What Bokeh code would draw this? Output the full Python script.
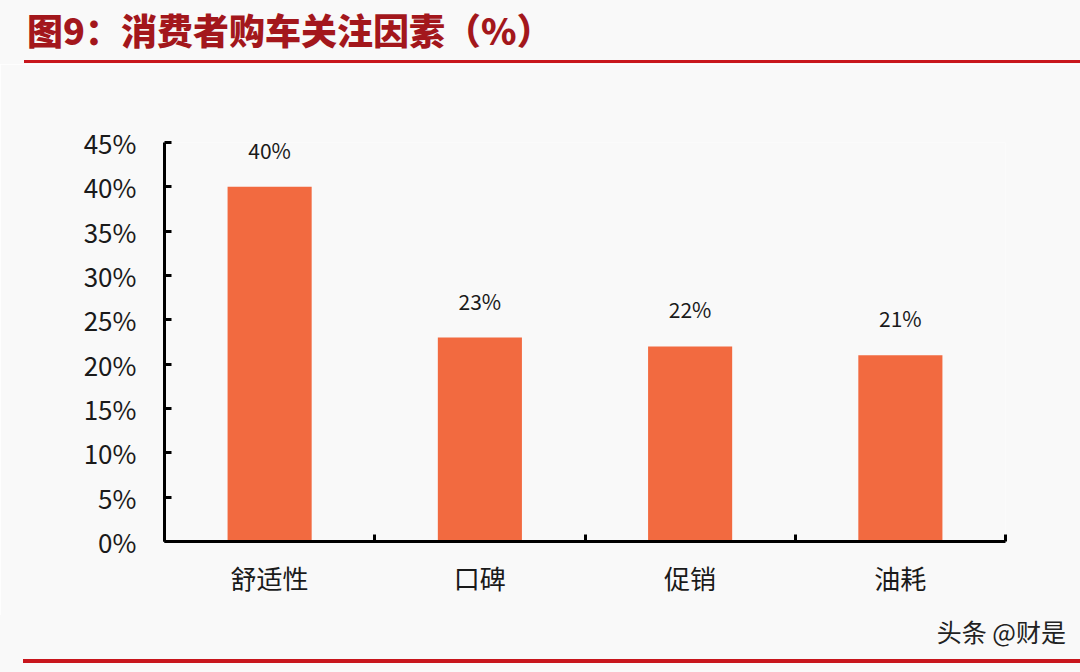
from bokeh.plotting import figure
from bokeh.models import Range1d, FixedTicker, PrintfTickFormatter, Div, ColumnDataSource
from bokeh.core.properties import value
from bokeh.layouts import column
from bokeh.embed import file_html
from bokeh.resources import INLINE

titulo = "图9：消费者购车关注因素（%）"
categorias = ["舒适性", "口碑", "促销", "油耗"]
valores = [40, 23, 22, 21]
etiquetas = ["40%", "23%", "22%", "21%"]
ticks_y = [0, 5, 10, 15, 20, 25, 30, 35, 40, 45]
marca = "头条 @财是"

fondo = "#F9F9F9"
rojo = "#C8161D"
naranja = "#F26A40"
fuente = "Noto Sans CJK SC"

posiciones = [i + 1 for i in range(len(categorias))]
limites = [i + 0.5 for i in range(len(categorias) + 1)]

fuente_datos = ColumnDataSource(data=dict(x=posiciones, valor=valores, etiqueta=etiquetas))

cabecera = Div(
    text=(
        f'<div style="position:relative;width:1080px;height:64px;background:{fondo};">'
        f'<div style="position:absolute;left:27px;top:10px;font-family:\'{fuente}\';font-weight:900;'
        f'font-size:36px;line-height:38px;color:#A3171C;white-space:nowrap;">{titulo}</div>'
        f'<div style="position:absolute;left:24px;right:0;top:60px;height:3px;background:{rojo};"></div>'
        f'</div>'
    ),
    width=1080, height=64, margin=0,
)

p = figure(width=1080, height=551, output_backend="svg", toolbar_location=None,
           x_range=Range1d(limites[0], limites[-1]), y_range=Range1d(ticks_y[0], ticks_y[-1]),
           min_border_left=164, min_border_right=75, min_border_top=78, min_border_bottom=74)
p.background_fill_color = fondo
p.border_fill_color = fondo
p.outline_line_color = None
p.grid.grid_line_color = None

p.vbar(x="x", top="valor", width=0.4, bottom=0, source=fuente_datos,
       fill_color=naranja, line_color=None)
p.text(x="x", y="valor", text="etiqueta", source=fuente_datos, y_offset=-37,
       text_align="center", text_baseline="middle", text_font_size="21px",
       text_color="#1a1a1a", text_font=value(fuente))

p.xaxis.ticker = FixedTicker(ticks=posiciones, minor_ticks=limites)
p.xaxis.major_label_overrides = {pos: cat for pos, cat in zip(posiciones, categorias)}
p.xaxis.major_tick_in = 0
p.xaxis.major_tick_out = 0
p.xaxis.minor_tick_in = 7
p.xaxis.minor_tick_out = 0
p.xaxis.minor_tick_line_width = 3
p.xaxis.minor_tick_line_color = "black"
p.xaxis.major_label_standoff = 17

p.yaxis.ticker = FixedTicker(ticks=ticks_y)
p.yaxis.formatter = PrintfTickFormatter(format="%d%%")
p.yaxis.major_tick_in = 7
p.yaxis.major_tick_out = 0
p.yaxis.minor_tick_line_color = None
p.yaxis.major_tick_line_width = 3
p.yaxis.major_label_standoff = 28

for eje in (p.xaxis, p.yaxis):
    eje.axis_line_width = 3
    eje.axis_line_color = "black"
    eje.major_tick_line_color = "black"
    eje.major_label_text_font = fuente
    eje.major_label_text_font_size = "26px"
    eje.major_label_text_color = "#1a1a1a"

pie = Div(
    text=(
        f'<div style="position:relative;width:1080px;height:57px;background:{fondo};">'
        f'<div style="position:absolute;right:14px;top:3px;font-family:\'{fuente}\';'
        f'font-size:25px;line-height:27px;color:#222;white-space:nowrap;">{marca}</div>'
        f'<div style="position:absolute;left:23px;right:0;top:44px;height:4px;background:{rojo};"></div>'
        f'</div>'
    ),
    width=1080, height=57, margin=0,
)

disposicion = column(cabecera, p, pie, spacing=0)

open("out.html", "w").write(file_html(disposicion, INLINE))
